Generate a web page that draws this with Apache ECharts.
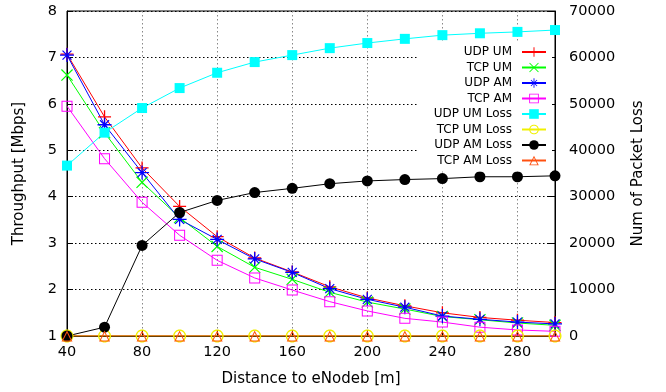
<!DOCTYPE html>
<html>
<head>
<meta charset="utf-8">
<script src="https://cdn.jsdelivr.net/npm/echarts@6/dist/echarts.min.js"></script>
<style>html,body{margin:0;padding:0;background:#fff}#c{width:666px;height:392px}</style>
</head>
<body>
<div id="c"></div>
<script>
const distances = [40, 60, 80, 100, 120, 140, 160, 180, 200, 220, 240, 260, 280, 300];
const xTicks = [40, 80, 120, 160, 200, 240, 280];
const udpUm  = [7.07, 5.72, 4.62, 3.79, 3.14, 2.68, 2.38, 2.06, 1.82, 1.65, 1.50, 1.40, 1.34, 1.29];
const tcpUm  = [6.62, 5.38, 4.31, 3.55, 2.93, 2.48, 2.22, 1.94, 1.73, 1.58, 1.42, 1.35, 1.28, 1.23];
const udpAm  = [7.05, 5.55, 4.52, 3.51, 3.08, 2.66, 2.37, 2.02, 1.79, 1.62, 1.43, 1.36, 1.30, 1.26];
const tcpAm  = [5.95, 4.82, 3.88, 3.17, 2.63, 2.25, 1.99, 1.74, 1.54, 1.38, 1.30, 1.19, 1.13, 1.10];
const udpUmLoss = [36700, 43800, 49100, 53400, 56700, 59000, 60500, 62000, 63100, 64000, 64800, 65200, 65500, 65900];
const tcpUmLoss = [0, 0, 0, 0, 0, 0, 0, 0, 0, 0, 0, 0, 0, 0];
const udpAmLoss = [0, 1900, 19500, 26600, 29200, 30900, 31800, 32800, 33400, 33700, 33900, 34300, 34300, 34500];
const tcpAmLoss = [0, 0, 0, 0, 0, 0, 0, 0, 0, 0, 0, 0, 0, 0];
const names = ['UDP UM', 'TCP UM', 'UDP AM', 'TCP AM', 'UDP UM Loss', 'TCP UM Loss', 'UDP AM Loss', 'TCP AM Loss'];

const PLUS = 'path://M0,4.5H10V5.5H0Z M4.5,0H5.5V10H4.5Z';
const CROSS = 'path://M0,0.7L0.7,0L10,9.3L9.3,10Z M9.3,0L10,0.7L0.7,10L0,9.3Z';
const STAR = 'path://M0,4.55H10V5.45H0Z M4.55,0H5.45V10H4.55Z M1.5,2.1L2.1,1.5L8.5,7.9L7.9,8.5Z M7.9,1.5L8.5,2.1L2.1,8.5L1.5,7.9Z';
const HSQUARE = 'path://M0,0H10V10H0Z M0.9,0.9V9.1H9.1V0.9Z';
function ringPath(r1, r2, n){
  let s = 'path://';
  for (let i = 0; i <= n; i++) { const a = 2*Math.PI*i/n; s += (i ? 'L' : 'M') + (5 + r1*Math.cos(a)).toFixed(3) + ',' + (5 + r1*Math.sin(a)).toFixed(3); }
  s += 'Z ';
  for (let i = 0; i <= n; i++) { const a = -2*Math.PI*i/n; s += (i ? 'L' : 'M') + (5 + r2*Math.cos(a)).toFixed(3) + ',' + (5 + r2*Math.sin(a)).toFixed(3); }
  return s + 'Z';
}
const HCIRCLE = ringPath(5, 3.95, 32);
const HTRI = 'path://M5,0L10,9L0,9Z M5,1.9L1.5,8.2L8.5,8.2Z';

function pairs(ys){ return distances.map((x,i)=>[x, ys[i]]); }
function mk(name, ys, color, symbol, size, axis){
  return {
    name, type:'line', yAxisIndex: axis, data: pairs(ys),
    symbol, symbolSize: size, showSymbol:true,
    lineStyle:{color, width:1}, itemStyle:{color},
    emphasis:{disabled:true}, animation:false
  };
}
const series = [
  mk(names[0], udpUm, '#ff0000', PLUS, 13, 0),
  mk(names[1], tcpUm, '#00ff00', CROSS, 12, 0),
  mk(names[2], udpAm, '#0000ff', STAR, 14, 0),
  mk(names[3], tcpAm, '#ff00ff', HSQUARE, 11, 0),
  mk(names[4], udpUmLoss, '#00ffff', 'rect', 10, 1),
  mk(names[5], tcpUmLoss, '#f0f000', HCIRCLE, 13, 1),
  mk(names[6], udpAmLoss, '#000000', 'circle', 11, 1),
  mk(names[7], tcpAmLoss, '#ff5010', HTRI, 11, 1)
];

const font = 'DejaVu Sans';
const chart = echarts.init(document.getElementById('c'), null, {renderer:'canvas'});
chart.setOption({
  animation:false,
  backgroundColor:'#fff',
  textStyle:{fontFamily:font},
  grid:{left:67, right:111, top:11, bottom:55, show:true, borderColor:'#000', borderWidth:1, containLabel:false},
  legend:{
    data:names, orient:'vertical', align:'right', right:114, top:41,
    itemWidth:24, itemHeight:12, itemGap:3.5,
    backgroundColor:'#fff', padding:[5,5,5,16],
    textStyle:{fontFamily:font, fontSize:12, color:'#000', width:88, align:'right', padding:[0,5,0,0]},
    selectedMode:false
  },
  xAxis:{
    type:'value', min:40, max:300, interval:40,
    name:'Distance to eNodeb [m]', nameLocation:'middle', nameGap:36,
    nameTextStyle:{fontFamily:font, fontSize:15, color:'#000'},
    axisLine:{lineStyle:{color:'#000', width:1}},
    axisTick:{inside:true, length:6, lineStyle:{color:'#000'}},
    axisLabel:{fontFamily:font, fontSize:14.5, color:'#000', margin:9,
      formatter:v=> xTicks.indexOf(v) >= 0 ? String(v) : ''},
    splitLine:{show:true, lineStyle:{color:'#888', type:[1.5,2.5], width:1}}
  },
  yAxis:[{
    type:'value', min:1, max:8, interval:1, position:'left',
    name:'Throughput [Mbps]', nameLocation:'middle', nameGap:40,
    nameTextStyle:{fontFamily:font, fontSize:15, color:'#000'},
    axisLine:{show:true, lineStyle:{color:'#000', width:1}},
    axisTick:{show:true, inside:true, length:6, lineStyle:{color:'#000'}},
    axisLabel:{fontFamily:font, fontSize:14.5, color:'#000', margin:10, formatter:v=>String(v)},
    splitLine:{show:true, lineStyle:{color:'#000', type:[1.5,2.5], width:1}}
  },{
    type:'value', min:0, max:70000, interval:10000, position:'right',
    name:'Num of Packet Loss', nameLocation:'middle', nameGap:76,
    nameTextStyle:{fontFamily:font, fontSize:15, color:'#000'},
    axisLine:{show:true, lineStyle:{color:'#000', width:1}},
    axisTick:{show:true, inside:true, length:8, lineStyle:{color:'#000'}},
    axisLabel:{fontFamily:font, fontSize:14.5, color:'#000', margin:14, formatter:v=>String(v)},
    splitLine:{show:false}
  }],
  series
});
</script>
</body>
</html>
